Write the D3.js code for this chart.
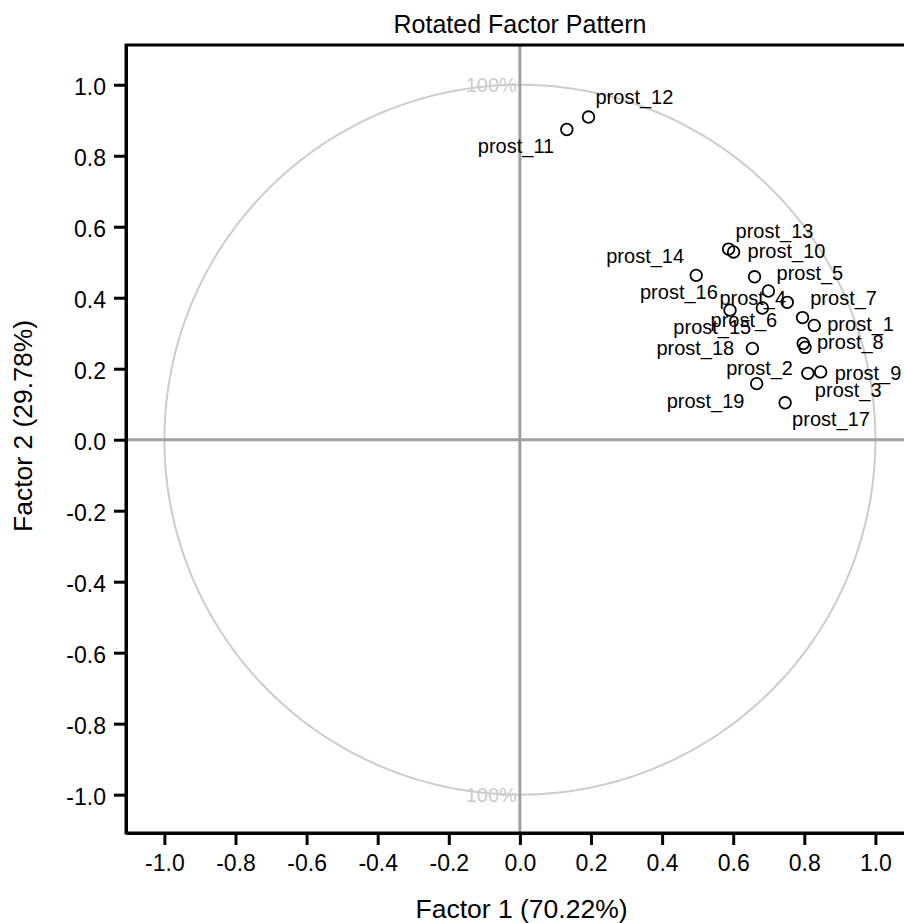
<!DOCTYPE html>
<html><head><meta charset="utf-8">
<script src="https://cdn.jsdelivr.net/npm/d3@7"></script>
<style>
body{margin:0;background:#fff}
text{font-family:"Liberation Sans",Arial,Helvetica,sans-serif}
</style>
</head><body>
<svg id="chart" width="904" height="923"></svg>
<script>
// ---- data ----
const variables = ["prost_1","prost_2","prost_3","prost_4","prost_5","prost_6","prost_7","prost_8","prost_9","prost_10",
                   "prost_11","prost_12","prost_13","prost_14","prost_15","prost_16","prost_17","prost_18","prost_19"];
const factor1 = [0.828,0.797,0.810,0.699,0.660,0.795,0.752,0.802,0.846,0.601,
                 0.132,0.193,0.587,0.496,0.682,0.591,0.746,0.654,0.666];
const factor2 = [0.322,0.271,0.187,0.419,0.459,0.344,0.387,0.260,0.191,0.529,
                 0.874,0.909,0.537,0.463,0.371,0.365,0.104,0.257,0.158];
const tickValues = [-1.0,-0.8,-0.6,-0.4,-0.2,0.0,0.2,0.4,0.6,0.8,1.0];
const tickLabels = ["-1.0","-0.8","-0.6","-0.4","-0.2","0.0","0.2","0.4","0.6","0.8","1.0"];
const titleText = "Rotated Factor Pattern";
const xTitle = "Factor 1 (70.22%)";
const yTitle = "Factor 2 (29.78%)";
const circleText = "100%";

// ---- layout (label placement offsets in px, text start / baseline) ----
const labelOffsets = [[13,6],[-77,31],[7,24],[-49,14],[22,3],[-92,9],[23,3],[12,2],[14,8],[14,6],
                      [-89,24],[7,-13],[7,-11],[-90,-12],[-89,26],[-90,-11],[7,23],[-96,7],[-90,24]];

const svg = d3.select("#chart");
const x = d3.scaleLinear().domain([-1.108, 1.108]).range([126, 913.8]);
const y = d3.scaleLinear().domain([-1.108, 1.112]).range([833, 45]);

svg.append("rect").attr("width",904).attr("height",923).attr("fill","#fff");

// unit circle
const angles = d3.range(0, 361, 1);
svg.append("path")
  .attr("d", d3.line().x(a => x(Math.cos(a*Math.PI/180))).y(a => y(Math.sin(a*Math.PI/180)))(angles))
  .attr("fill","none").attr("stroke","#cccccc").attr("stroke-width",2);

// reference lines
svg.append("line").attr("x1",x(0)).attr("x2",x(0)).attr("y1",y.range()[1]).attr("y2",y.range()[0])
  .attr("stroke","#a0a0a0").attr("stroke-width",3);
svg.append("line").attr("x1",x.range()[0]).attr("x2",x.range()[1]).attr("y1",y(0)).attr("y2",y(0))
  .attr("stroke","#a0a0a0").attr("stroke-width",3);

// 100% labels
[1,-1].forEach(v => {
  svg.append("text").attr("x", x(0)-3).attr("y", y(v)+7.5)
    .attr("text-anchor","end").attr("font-size",20).attr("fill","#cccccc").text(circleText);
});

// frame
svg.append("rect").attr("x",x.range()[0]).attr("y",y.range()[1])
  .attr("width",x.range()[1]-x.range()[0]).attr("height",y.range()[0]-y.range()[1])
  .attr("fill","none").attr("stroke","#000").attr("stroke-width",3);

// axes
const fmt = d => tickLabels[tickValues.indexOf(d)];
const gx = svg.append("g").attr("transform",`translate(0,${y.range()[0]})`)
  .call(d3.axisBottom(x).tickValues(tickValues).tickFormat(fmt).tickSize(12).tickSizeOuter(0).tickPadding(8));
const gy = svg.append("g").attr("transform",`translate(${x.range()[0]},0)`)
  .call(d3.axisLeft(y).tickValues(tickValues).tickFormat(fmt).tickSize(12).tickSizeOuter(0).tickPadding(8));
[gx,gy].forEach(g => {
  g.select(".domain").attr("stroke-width",3).attr("stroke","#000");
  g.selectAll(".tick line").attr("stroke-width",3).attr("stroke","#000");
  g.selectAll(".tick text").attr("font-size",23).attr("font-family","Liberation Sans, Arial, sans-serif").attr("fill","#000");
});
gx.selectAll(".tick text").attr("dy",null).attr("y",38);
gy.selectAll(".tick text").attr("dy",null).attr("y",9.5).attr("x",-20);

// points
const pts = variables.map((v,i) => ({name:v, f1:factor1[i], f2:factor2[i], off:labelOffsets[i]}));
svg.append("g").selectAll("circle").data(pts).join("circle")
  .attr("cx", d => x(d.f1)).attr("cy", d => y(d.f2)).attr("r",5.8)
  .attr("fill","none").attr("stroke","#000").attr("stroke-width",1.8);
svg.append("g").selectAll("text").data(pts).join("text")
  .attr("x", d => x(d.f1)+d.off[0]).attr("y", d => y(d.f2)+d.off[1])
  .attr("font-size",20).attr("fill","#000").text(d => d.name);

// titles
svg.append("text").attr("x",520).attr("y",33).attr("text-anchor","middle").attr("font-size",25).text(titleText);
svg.append("text").attr("x",521.5).attr("y",918).attr("text-anchor","middle").attr("font-size",26.5).text(xTitle);
svg.append("text").attr("transform","translate(31.5,426) rotate(-90)").attr("text-anchor","middle").attr("font-size",26.5).text(yTitle);
</script>
</body></html>
